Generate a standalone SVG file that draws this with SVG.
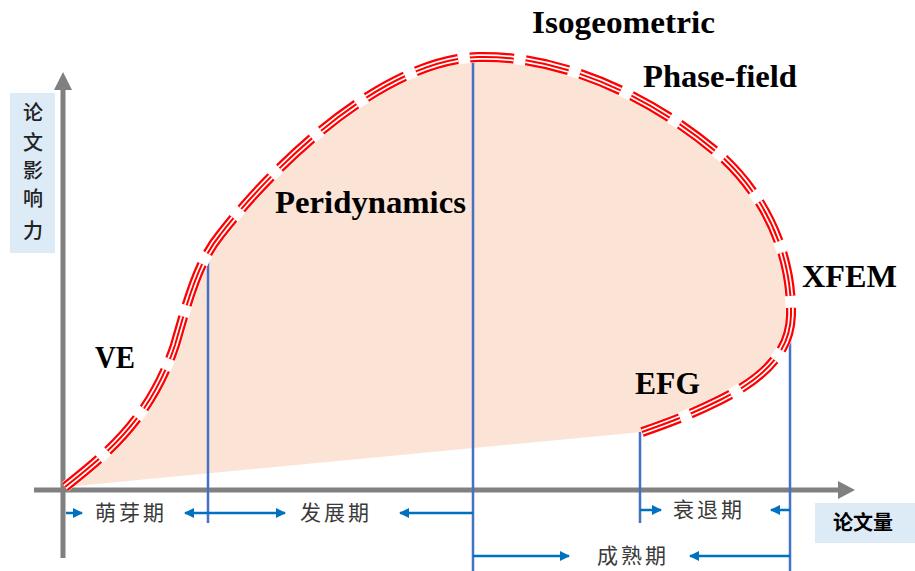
<svg xmlns="http://www.w3.org/2000/svg" width="915" height="571" viewBox="0 0 915 571">
<defs>
<style>
.lbl{font-family:"Liberation Serif","Times New Roman",serif;font-weight:bold;font-size:31px;fill:#000}
.cn{font-family:"Noto Sans CJK SC","Noto Sans",sans-serif;font-size:21px;fill:#3a3a3a;letter-spacing:3px}
.cnb{font-family:"Noto Sans CJK SC","Noto Sans",sans-serif;font-size:20px;fill:#000;font-weight:bold}
.yl{font-family:"Noto Sans CJK SC","Noto Sans",sans-serif;font-size:20px;fill:#222;font-weight:500}
.vl{stroke:#4472C4;stroke-width:2.5;fill:none}
.ar{stroke:#0070C0;stroke-width:2.5;fill:none;marker-end:url(#ah)}
.axis{stroke:#808080;stroke-width:5;fill:none}
</style>
<marker id="ah" viewBox="0 0 10 10" refX="9" refY="5" markerWidth="4" markerHeight="4" orient="auto" markerUnits="strokeWidth">
<path d="M0,0 L10,5 L0,10 Z" fill="#0070C0"/>
</marker>
<path id="cpath" d="M65,487 C105,455 150,420 175,345 C188,300 198,262 220,235 C270,170 380,60 478,57 C560,55 650,95 720,155 C770,200 792,260 791,315 C790,355 760,380 720,400 C690,415 665,424 642,432"/>
</defs>
<rect width="915" height="571" fill="#fff"/>
<g id="region">
<path d="M65,487 C105,455 150,420 175,345 C188,300 198,262 220,235 C270,170 380,60 478,57 C560,55 650,95 720,155 C770,200 792,260 791,315 C790,355 760,380 720,400 C690,415 665,424 642,432 L65,487 Z" fill="#FBE4D6"/>
</g>
<g id="axes">
<line class="axis" x1="63" y1="86" x2="63" y2="558"/>
<path d="M63,72 L54,90 L72,90 Z" fill="#808080"/>
<line class="axis" x1="34" y1="490" x2="840" y2="490"/>
<path d="M855,490 L838,481 L838,499 Z" fill="#808080"/>
</g>
<g id="dividers">
<line class="vl" x1="208" y1="252" x2="208" y2="523"/>
<line class="vl" x1="473" y1="57" x2="473" y2="571"/>
<line class="vl" x1="640" y1="432" x2="640" y2="523"/>
<line class="vl" x1="790" y1="322" x2="790" y2="571"/>
</g>
<g id="curve" fill="none">
<use href="#cpath" stroke="#fff" stroke-width="11"/>
<use href="#cpath" stroke="#FF0000" stroke-width="10" stroke-dasharray="44 12"/>
<use href="#cpath" stroke="#fff" stroke-width="5.5" stroke-dasharray="44 12"/>
<use href="#cpath" stroke="#FF0000" stroke-width="2" stroke-dasharray="44 12"/>
</g>
<g id="connectors">
<line class="ar" x1="66" y1="513" x2="82" y2="513"/>
<line class="ar" x1="208" y1="513" x2="185" y2="513"/>
<line class="ar" x1="208" y1="513" x2="285" y2="513"/>
<line class="ar" x1="473" y1="513" x2="400" y2="513"/>
<line class="ar" x1="640" y1="510" x2="661" y2="510"/>
<line class="ar" x1="790" y1="510" x2="771" y2="510"/>
<line class="ar" x1="473" y1="556" x2="569" y2="556"/>
<line class="ar" x1="790" y1="556" x2="690" y2="556"/>
</g>
<g id="ylabel">
<rect x="10" y="93" width="45" height="160" fill="#DDEBF7"/>
<text class="yl" x="33" y="120" text-anchor="middle">论</text>
<text class="yl" x="33" y="150" text-anchor="middle">文</text>
<text class="yl" x="33" y="178" text-anchor="middle">影</text>
<text class="yl" x="33" y="206" text-anchor="middle">响</text>
<text class="yl" x="33" y="238" text-anchor="middle">力</text>
</g>
<g id="xlabel">
<rect x="815" y="503" width="100" height="40" fill="#DDEBF7"/>
<text class="cnb" x="863" y="530" text-anchor="middle">论文量</text>
</g>
<g id="stages">
<text class="cn" x="95" y="520">萌芽期</text>
<text class="cn" x="300" y="520">发展期</text>
<text class="cn" x="673" y="517">衰退期</text>
<text class="cn" x="597" y="563">成熟期</text>
</g>
<g id="methods">
<text class="lbl" x="532" y="33" textLength="183" lengthAdjust="spacingAndGlyphs">Isogeometric</text>
<text class="lbl" x="643" y="87" textLength="154" lengthAdjust="spacingAndGlyphs">Phase-field</text>
<text class="lbl" x="275" y="213" textLength="191" lengthAdjust="spacingAndGlyphs">Peridynamics</text>
<text class="lbl" x="802" y="287" textLength="95" lengthAdjust="spacingAndGlyphs">XFEM</text>
<text class="lbl" x="95" y="368" textLength="40" lengthAdjust="spacingAndGlyphs">VE</text>
<text class="lbl" x="635" y="394" textLength="65" lengthAdjust="spacingAndGlyphs">EFG</text>
</g>
</svg>
